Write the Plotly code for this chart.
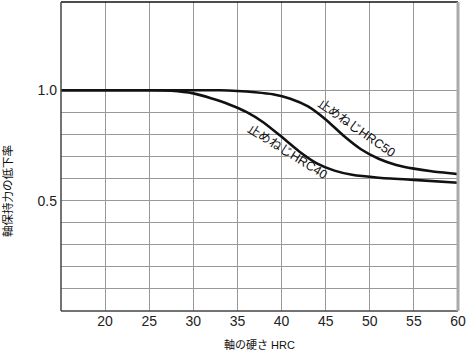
import plotly.graph_objects as go

# HRC50 set screw curve
hrc50_x = [15, 25, 33, 35, 37, 39, 41, 43, 45, 47, 49, 51, 53, 55, 57, 60]
hrc50_y = [1.0, 1.0, 1.0, 0.997, 0.991, 0.982, 0.962, 0.927, 0.868, 0.795, 0.733, 0.690, 0.662, 0.645, 0.633, 0.620]
# HRC40 set screw curve
hrc40_x = [15, 25, 27.5, 30, 32, 34, 36, 38, 40, 42, 44, 46, 48, 51, 55, 60]
hrc40_y = [1.0, 1.0, 0.998, 0.986, 0.964, 0.937, 0.902, 0.853, 0.789, 0.723, 0.669, 0.636, 0.617, 0.604, 0.594, 0.581]

x_ticks = [20, 25, 30, 35, 40, 45, 50, 55, 60]
y_grid = [0.1, 0.2, 0.3, 0.4, 0.5, 0.6, 0.7, 0.8, 0.9, 1.0]
y_labels = ["", "", "", "", "0.5", "", "", "", "", "1.0"]

label50 = "止めねじHRC50"
label40 = "止めねじHRC40"
x_title = "軸の硬さ HRC"
y_title = "軸保持力の低下率"

fig = go.Figure()
for xs, ys in [(hrc40_x, hrc40_y), (hrc50_x, hrc50_y)]:
    fig.add_trace(go.Scatter(x=xs, y=ys, mode="lines", line=dict(color="#111", width=2.6, shape="spline", smoothing=0.5),
                             showlegend=False, hoverinfo="skip"))

jp = "Liberation Sans, Noto Sans CJK JP"
fig.add_annotation(x=48.45, y=0.829, text=label50, showarrow=False, textangle=35,
                   font=dict(family=jp, size=12.5, color="#111"))
fig.add_annotation(x=40.7, y=0.721, text=label40, showarrow=False, textangle=32,
                   font=dict(family=jp, size=12.5, color="#111"))

fig.add_annotation(xref="paper", yref="paper", x=0.5, y=-0.107, yanchor="middle", text=x_title, showarrow=False,
                   font=dict(family=jp, size=11, color="#111"))
fig.add_annotation(xref="paper", yref="paper", x=-0.135, y=0.39, xanchor="center", yanchor="middle",
                   text=y_title, showarrow=False, textangle=-90,
                   font=dict(family=jp, size=11.5, color="#111"))

# borders
fig.add_shape(type="line", xref="paper", yref="paper", x0=0, x1=1, y0=1, y1=1, line=dict(color="#111", width=1.5))
fig.add_shape(type="line", xref="paper", yref="paper", x0=0, x1=0, y0=0, y1=1, line=dict(color="#444", width=1.5))
fig.add_shape(type="line", xref="paper", yref="paper", x0=0, x1=1, y0=0, y1=0, line=dict(color="#444", width=1.5))
fig.add_shape(type="line", xref="paper", yref="paper", x0=1, x1=1, y0=0, y1=1, line=dict(color="#aaa", width=3))

fig.update_layout(
    width=467, height=353,
    margin=dict(l=61, r=9, t=2, b=42),
    paper_bgcolor="white", plot_bgcolor="white",
    font=dict(family="Liberation Sans, Arial", size=14, color="#222"),
    xaxis=dict(range=[15, 60], tickvals=x_ticks, showgrid=True, gridcolor="#999", gridwidth=1,
               zeroline=False, showline=False, ticks="", tickfont=dict(size=14)),
    yaxis=dict(range=[0, 1.4], tickvals=y_grid, ticktext=y_labels, showgrid=True, gridcolor="#999", gridwidth=1,
               zeroline=False, showline=False, ticks="", ticklabelstandoff=3, tickfont=dict(size=14)),
)
fig.write_html("out.html")
